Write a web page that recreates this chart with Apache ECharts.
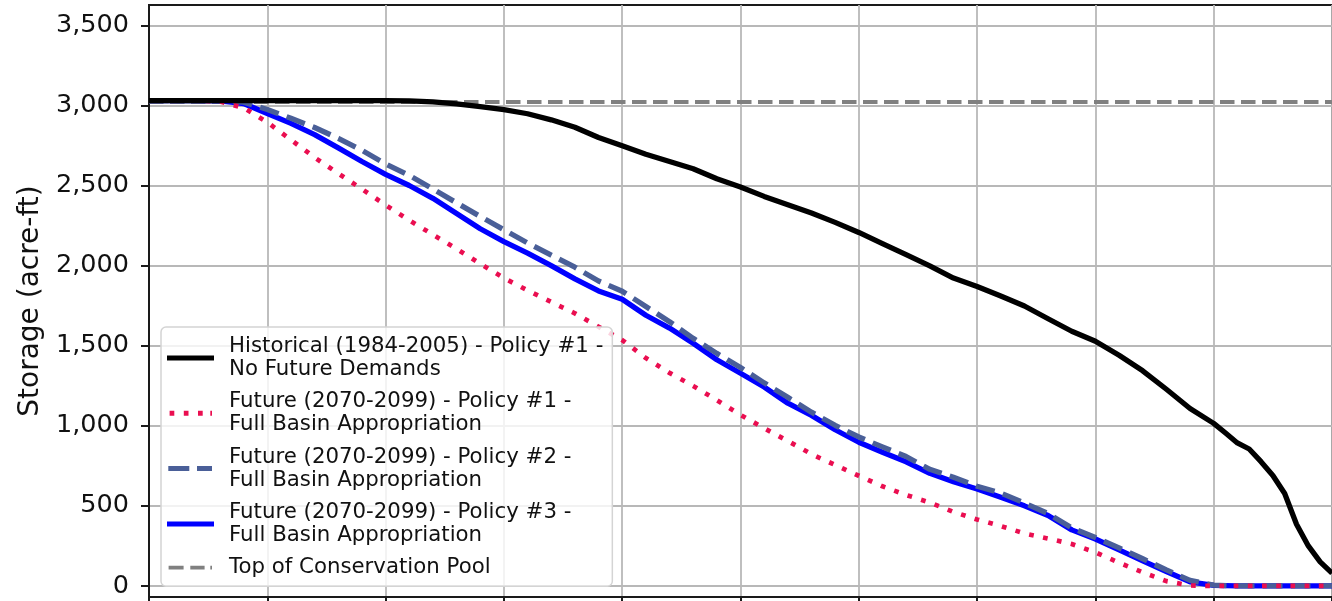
<!DOCTYPE html>
<html>
<head>
<meta charset="utf-8">
<script src="https://cdn.jsdelivr.net/npm/echarts@6/dist/echarts.min.js"></script>
<style>
  html, body { margin: 0; padding: 0; background: #fff; }
  #chart { width: 1332px; height: 601px; }
</style>
</head>
<body>
<div id="chart"></div>
<script>
// Reservoir storage drawdown curves (acre-ft)
const stepX = [0,2,4,6,8,10,12,14,16,18,20,22,24,26,28,30,32,34,36,38,40,42,44,46,48,50,52,54,56,58,60,62,64,66,68,70,72,74,76,78,80,82,84,86,88,90,92,94,96,98,100];

const historicalX = [0,4,8,12,16,20,22,24,26,28,30,32,34,36,38,40,42,44,46,48,50,52,54,56,58,60,62,64,66,68,70,72,74,76,78,80,82,84,86,88,90,91,92,93,94,95,96,97,98,99,100];
const historical = [3030,3030,3030,3030,3030,3030,3028,3022,3010,2993,2974,2948,2910,2864,2800,2748,2695,2650,2605,2542,2491,2432,2380,2328,2270,2207,2137,2068,1998,1922,1869,1810,1748,1668,1590,1528,1440,1343,1228,1108,1015,955,893,855,776,690,577,385,250,150,80];

const policy1 = [3030,3030,3030,3025,2985,2895,2785,2675,2575,2478,2378,2283,2193,2105,2012,1922,1845,1773,1702,1618,1535,1423,1330,1249,1160,1068,985,905,823,755,688,622,568,521,462,415,374,328,296,262,210,145,85,30,3,0,0,0,0,0,0];

const policy2 = [3030,3030,3030,3030,3020,2975,2920,2862,2795,2720,2635,2563,2478,2392,2307,2224,2141,2065,1990,1904,1840,1745,1650,1546,1452,1364,1268,1178,1085,1003,930,868,808,728,678,622,580,518,452,362,302,238,170,100,35,5,0,0,0,0,0];

const policy3 = [3030,3030,3030,3028,3012,2950,2888,2818,2735,2650,2570,2500,2420,2325,2230,2150,2078,2000,1917,1842,1790,1690,1610,1515,1412,1328,1242,1141,1065,975,897,835,775,703,651,605,553,500,440,350,293,225,157,90,25,3,0,0,0,0,0];

const poolX = [0, 100];
const pool = [3022, 3022];

const yTicks = [0, 500, 1000, 1500, 2000, 2500, 3000, 3500];

const names = [
  'Historical (1984-2005) - Policy #1 -\nNo Future Demands',
  'Future (2070-2099) - Policy #1 -\nFull Basin Appropriation',
  'Future (2070-2099) - Policy #2 -\nFull Basin Appropriation',
  'Future (2070-2099) - Policy #3 -\nFull Basin Appropriation',
  'Top of Conservation Pool'
];
const colors = ['#000000', '#ea0e50', '#4a5f98', '#0000ff', '#808080'];

// Legend swatches: 47x5 boxes; the zero-size subpaths pin the bounding box
const FRAME = 'M0,0L0,0Z M47,5L47,5Z ';
const icons = [
  'path://' + FRAME + 'M0,0H47V5H0Z',
  'path://' + FRAME + 'M2.6,0H7.3V5H2.6Z M16.8,0H21.5V5H16.8Z M31,0H35.7V5H31Z M43.3,0H45V5H43.3Z',
  'path://' + FRAME + 'M1.3,0H22.3V5H1.3Z M30,0H45V5H30Z',
  'path://' + FRAME + 'M0,0H47V5H0Z',
  'path://' + FRAME + 'M1.6,0.6H16.6V4.4H1.6Z M23.3,0.6H37.6V4.4H23.3Z M43.3,0.6H45V4.4H43.3Z'
];

const zip = (xs, ys) => xs.map((x, i) => [x, ys[i]]);
const FONT = 'DejaVu Sans';

const chart = echarts.init(document.getElementById('chart'), null, { renderer: 'canvas' });

function lineSeries(name, data, color, width, type) {
  return {
    name: name,
    type: 'line',
    data: data,
    symbol: 'none',
    showSymbol: false,
    animation: false,
    lineStyle: { color: color, width: width, type: type, cap: 'butt', join: 'round' },
    itemStyle: { color: color },
    emphasis: { disabled: true }
  };
}

chart.setOption({
  animation: false,
  textStyle: { fontFamily: FONT },
  grid: {
    left: 149, top: 5, right: -9, bottom: 4,
    show: true, borderColor: '#1a1a1a', borderWidth: 2, backgroundColor: 'transparent'
  },
  xAxis: {
    type: 'value', min: 0, max: 100, interval: 10,
    axisLine: { show: true, onZero: false, lineStyle: { color: '#1a1a1a', width: 2 } },
    axisTick: { show: true, length: 8, lineStyle: { color: '#1a1a1a', width: 2 } },
    axisLabel: { show: false },
    splitLine: { show: true, lineStyle: { color: '#b8b8b8', width: 1.8 } }
  },
  yAxis: {
    type: 'value', min: -69, max: 3627,
    name: 'Storage (acre-ft)',
    nameLocation: 'middle', nameGap: 102,
    nameTextStyle: { fontFamily: FONT, fontSize: 28, color: '#111' },
    axisLine: { show: true, onZero: false, lineStyle: { color: '#1a1a1a', width: 2 } },
    axisTick: { show: true, length: 8, customValues: yTicks, lineStyle: { color: '#1a1a1a', width: 2 } },
    axisLabel: {
      customValues: yTicks, margin: 20, fontFamily: FONT, fontSize: 25.5, color: '#111',
      formatter: v => Number(v).toLocaleString('en-US')
    },
    splitLine: { show: true, lineStyle: { color: '#b8b8b8', width: 1.8 } }
  },
  legend: {
    data: names.map((n, i) => ({
      name: n, icon: icons[i],
      itemStyle: { color: colors[i], borderWidth: 0 }
    })),
    orient: 'vertical',
    left: 161, top: 327,
    padding: [8, 9, 7, 6],
    itemGap: 9.3,
    itemWidth: 47, itemHeight: 5,
    symbolKeepAspect: false,
    itemStyle: { borderWidth: 0 },
    backgroundColor: 'rgba(255,255,255,0.82)',
    borderColor: '#d4d4d4', borderWidth: 1.5, borderRadius: 5,
    selectedMode: false,
    textStyle: { fontFamily: FONT, fontSize: 21.3, lineHeight: 23, color: '#111', padding: [0, 0, 0, 10] }
  },
  series: [
    lineSeries(names[4], zip(poolX, pool), colors[4], 4, [14.5, 6.5]),
    lineSeries(names[3], zip(stepX, policy3), colors[3], 5.3, 'solid'),
    lineSeries(names[2], zip(stepX, policy2), colors[2], 5.3, [19.5, 8.5]),
    lineSeries(names[1], zip(stepX, policy1), colors[1], 4.7, [4.7, 9.5]),
    lineSeries(names[0], zip(historicalX, historical), colors[0], 5.3, 'solid')
  ]
});
</script>
</body>
</html>
